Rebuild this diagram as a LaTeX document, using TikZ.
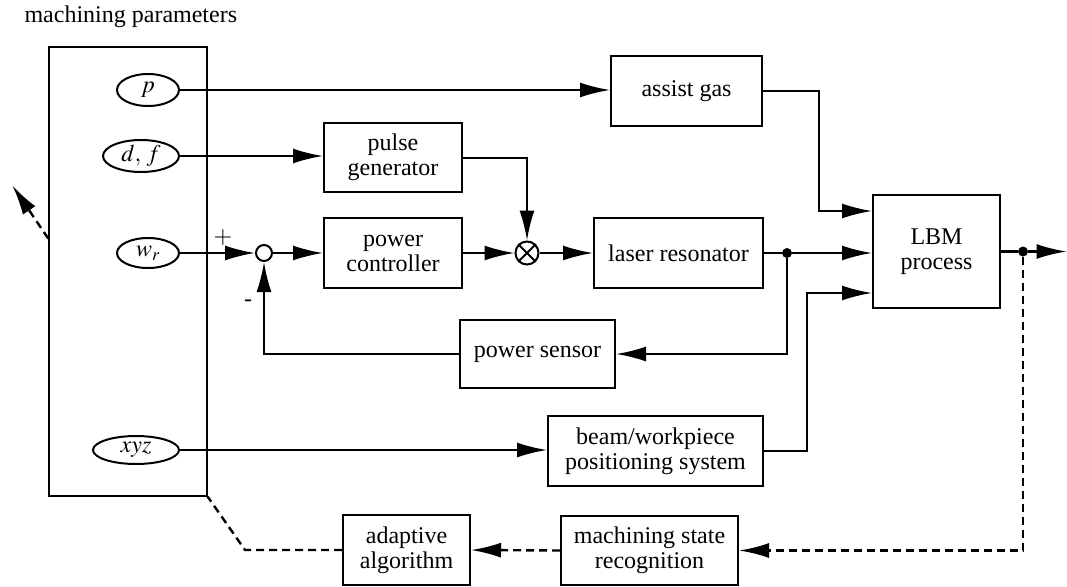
\documentclass[tikz,border=0pt]{standalone}
\usepackage{mathptmx}
\usepackage{fontspec}
\setmainfont{Liberation Serif}
\usetikzlibrary{calc,shapes,arrows.meta}

\begin{document}
\begin{tikzpicture}[x=1pt, y=-1pt, font=\fontsize{24}{25}\selectfont,
    block/.style={rectangle, draw, line width=2pt, align=center, inner sep=0pt},
    param/.style={ellipse, draw, line width=2pt, inner sep=0pt},
    junction/.style={circle, draw, line width=2pt, inner sep=0pt},
    dot/.style={circle, fill=black, inner sep=0pt, minimum size=10pt},
    conn/.style={draw, line width=2.2pt, -{Latex[length=30pt, width=15pt]}},
    feed/.style={draw, line width=2.4pt, dash pattern=on 8pt off 5pt, -{Latex[length=30pt, width=15pt]}}]
    \useasboundingbox (0,0) rectangle (1067,586);
    % Place nodes
    \node [anchor=base west] (title) at (21,23) {machining parameters};
    \node [block, line width=1.4pt, minimum width=158pt, minimum height=449pt] (par) at (128,271.5) {};
    \node [param, minimum width=62pt, minimum height=32pt] (p) at (148,90) {$p$};
    \node [param, minimum width=76pt, minimum height=32pt] (df) at (141,156) {$d,\,f$};
    \node [param, minimum width=62pt, minimum height=30pt] (wr) at (148,253) {$w_r$};
    \node [param, minimum width=86pt, minimum height=28pt] (xyz) at (136,450) {$xyz$};
    \node [block, minimum width=151pt, minimum height=70pt] (gas) at (686.5,91) {assist gas};
    \node [block, minimum width=138pt, minimum height=69pt] (pulse) at (393,157.5) {pulse\\generator};
    \node [block, minimum width=138pt, minimum height=70pt] (pc) at (393,253) {power\\controller};
    \node [junction, minimum size=16pt] (sum) at (264,253) {};
    \node [junction, minimum size=23pt] (mult) at (527,253) {};
    \node [block, minimum width=169pt, minimum height=70pt] (laser) at (678.5,253) {laser resonator};
    \node [block, minimum width=127pt, minimum height=113pt] (lbm) at (936.5,251.5) {LBM\\process};
    \node [block, minimum width=155pt, minimum height=68pt] (sensor) at (537.5,354) {power sensor};
    \node [block, minimum width=215pt, minimum height=70pt] (beam) at (655.5,451) {beam/workpiece\\positioning system};
    \node [block, minimum width=177pt, minimum height=69pt] (state) at (649.5,550.5) {machining state\\recognition};
    \node [block, minimum width=127pt, minimum height=70pt] (adapt) at (406.5,550) {adaptive\\algorithm};
    \node [dot] (tap) at (787,253) {};
    \node [dot] (meas) at (1023,251.5) {};
    \node [inner sep=0pt, outer sep=0pt] (out) at (1067,251.5) {};
    \node [inner sep=0pt, outer sep=0pt] (bend) at (245,550) {};
    \node [inner sep=0pt, outer sep=0pt] (back) at (12,185) {};
    \node (plus) at (223,238) {$+$};
    \node (minus) at (248,303) {-};
    \draw [line width=1.8pt] (mult.45) -- (mult.225) (mult.135) -- (mult.315);
    % Forward paths
    \path [conn] (p.east) -- (p.east -| gas.west);
    \path [conn] (df.east) -- (df.east -| pulse.west);
    \path [conn] (wr.east) -- (sum.west);
    \path [conn] (sum.east) -- (pc.west);
    \path [conn] (pc.east) -- (mult.west);
    \path [conn] ([yshift=-0.5pt]pulse.east) -| (mult.north);
    \path [conn] (mult.east) -- (laser.west);
    \path [draw, line width=2.2pt] (laser.east) -- (tap);
    \path [conn] (tap) -- (tap -| lbm.west);
    \path [conn] (tap) |- (sensor.east);
    \path [conn] (sensor.west) -| (sum.south);
    \path [conn] (gas.east) -| ([xshift=-53pt, yshift=40.5pt]lbm.west) -- ([yshift=40.5pt]lbm.west);
    \path [conn] (xyz.east) -- (xyz.east -| beam.west);
    \path [conn] (beam.east) -| ([xshift=-65pt, yshift=-41.5pt]lbm.west) -- ([yshift=-41.5pt]lbm.west);
    \path [draw, line width=2.2pt] (lbm.east) -- (meas);
    \path [conn] (meas) -- (out);
    % Adaptation loop
    \path [feed] (meas) |- (state.east);
    \path [feed] (state.west) -- (adapt.east);
    \path [feed, -] (adapt.west) -- (bend.center) -- (par.south east);
    \path [feed] ($(par.north west)!0.427!(par.south west)$) -- (back);
\end{tikzpicture}
\end{document}
